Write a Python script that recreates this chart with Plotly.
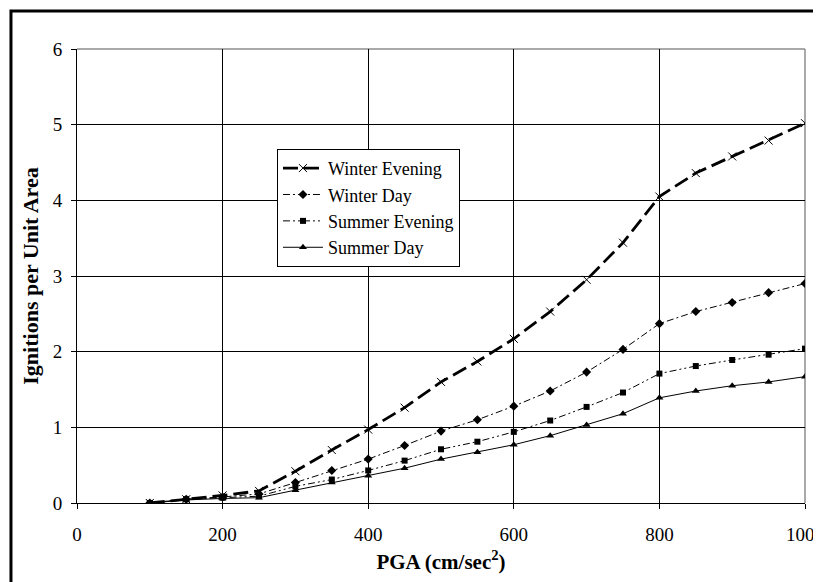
import plotly.graph_objects as go

pga = [100, 150, 200, 250, 300, 350, 400, 450, 500, 550, 600, 650, 700, 750, 800, 850, 900, 950, 1000]
winter_evening = [0.0, 0.05, 0.10, 0.16, 0.42, 0.70, 0.97, 1.26, 1.60, 1.87, 2.17, 2.53, 2.95, 3.44, 4.05, 4.36, 4.58, 4.79, 5.02]
winter_day = [0.0, 0.05, 0.08, 0.12, 0.27, 0.43, 0.58, 0.76, 0.95, 1.10, 1.28, 1.48, 1.73, 2.03, 2.37, 2.53, 2.65, 2.78, 2.90]
summer_evening = [0.0, 0.05, 0.07, 0.09, 0.22, 0.31, 0.43, 0.56, 0.71, 0.81, 0.94, 1.09, 1.27, 1.46, 1.71, 1.81, 1.89, 1.96, 2.04]
summer_day = [0.0, 0.04, 0.06, 0.07, 0.17, 0.27, 0.36, 0.46, 0.58, 0.67, 0.77, 0.89, 1.03, 1.18, 1.39, 1.48, 1.55, 1.60, 1.67]
x_ticks = [0, 200, 400, 600, 800, 1000]
y_ticks = [0, 1, 2, 3, 4, 5, 6]

FONT = "Liberation Serif"

fig = go.Figure()
fig.add_trace(go.Scatter(
    x=pga, y=winter_evening, name="Winter Evening", mode="lines+markers",
    line=dict(color="black", width=2.8, dash="15px,6px"),
    marker=dict(symbol="x-thin", size=8, color="black", line=dict(color="black", width=1)),
))
fig.add_trace(go.Scatter(
    x=pga, y=winter_day, name="Winter Day", mode="lines+markers",
    line=dict(color="black", width=1, dash="7px,3px,2px,3px"),
    marker=dict(symbol="diamond", size=7, color="black"),
))
fig.add_trace(go.Scatter(
    x=pga, y=summer_evening, name="Summer Evening", mode="lines+markers",
    line=dict(color="black", width=1, dash="7px,3px,2px,3px,2px,3px"),
    marker=dict(symbol="square", size=6, color="black"),
))
fig.add_trace(go.Scatter(
    x=pga, y=summer_day, name="Summer Day", mode="lines+markers",
    line=dict(color="black", width=1),
    marker=dict(symbol="triangle-up", size=7, color="black"),
))

fig.update_layout(
    width=813, height=574,
    margin=dict(l=69, r=16, t=41, b=79, autoexpand=False),
    paper_bgcolor="white", plot_bgcolor="white",
    font=dict(family=FONT, size=18, color="black"),
    showlegend=True,
    legend=dict(
        x=0.2747, y=0.78, xanchor="left", yanchor="top",
        bgcolor="white", bordercolor="black", borderwidth=1,
        font=dict(family=FONT, size=18, color="black"),
        tracegroupgap=0, itemwidth=40,
    ),
    xaxis=dict(
        range=[0, 1000], tickvals=x_ticks, ticktext=[str(v) for v in x_ticks],
        showgrid=True, gridcolor="black", gridwidth=1,
        showline=True, linecolor="black", linewidth=1,
        ticks="outside", ticklen=5, tickcolor="black",
        zeroline=False, ticklabeloverflow="allow", ticklabelstandoff=9,
        automargin=False,
        tickfont=dict(family=FONT, size=19),
        title=dict(text="<b>PGA (cm/sec<sup>2</sup>)</b>", font=dict(family=FONT, size=21), standoff=10),
    ),
    yaxis=dict(
        range=[0, 6], tickvals=y_ticks,
        showgrid=True, gridcolor="black", gridwidth=1,
        showline=True, linecolor="black", linewidth=1,
        ticks="outside", ticklen=5, tickcolor="black",
        zeroline=False, ticklabelstandoff=5,
        automargin=False,
        tickfont=dict(family=FONT, size=19),
        title=dict(text="<b>Ignitions per Unit Area</b>", font=dict(family=FONT, size=22), standoff=8),
    ),
    shapes=[
        dict(type="rect", xref="paper", yref="paper", x0=-0.0907, y0=-0.5, x1=1.2, y1=1.0837,
             line=dict(color="black", width=3), fillcolor="rgba(0,0,0,0)", layer="below"),
        dict(type="line", xref="paper", yref="paper", x0=0, y0=1, x1=1, y1=1,
             line=dict(color="#8c8c8c", width=1.5), layer="between"),
        dict(type="line", xref="paper", yref="paper", x0=1, y0=0, x1=1, y1=1,
             line=dict(color="#8c8c8c", width=1.5), layer="between"),
    ],
)

fig.write_html("out.html")
